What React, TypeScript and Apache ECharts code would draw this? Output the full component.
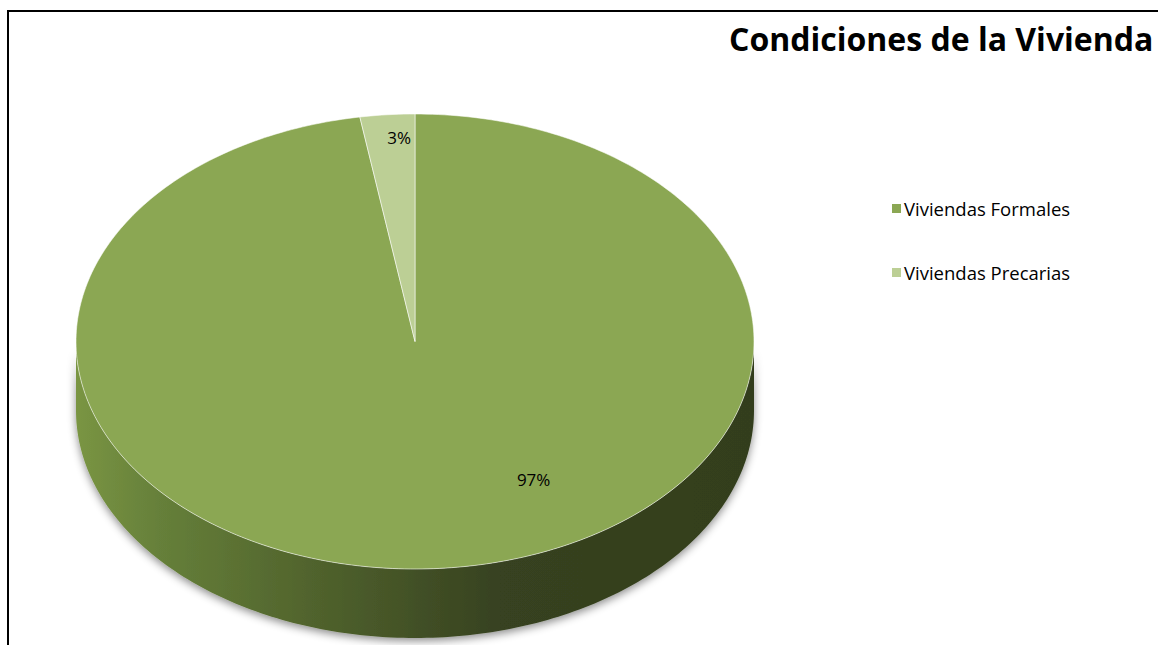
import React, { useEffect, useRef } from "react";
import * as echarts from "echarts";

const categories = ["Viviendas Formales", "Viviendas Precarias"];
const values = [97.4, 2.6];
const colors = ["#8ba753", "#bccf95"];
const titleText = "Condiciones de la Vivienda";

// pie geometry (style/layout constants)
const CX = 415;
const CY = 341.5;
const RX = 339;
const RY = 227.5;
const DEPTH = 69;

const pt = (theta: number, dy = 0): number[] => [
  CX + RX * Math.sin(theta),
  CY - RY * Math.cos(theta) + dy,
];

const arcPoints = (a: number, b: number, dy = 0): number[][] => {
  const n = Math.max(2, Math.ceil(((b - a) * 180) / Math.PI));
  const out: number[][] = [];
  for (let k = 0; k <= n; k++) out.push(pt(a + ((b - a) * k) / n, dy));
  return out;
};

const makeRender = (idx: number) => (params: any, api: any) => {
  const total = values.reduce((s, v) => s + v, 0);
  const before = values.slice(0, idx).reduce((s, v) => s + v, 0);
  const v = api.value(0);
  const a0 = (before / total) * Math.PI * 2;
  const a1 = a0 + (v / total) * Math.PI * 2;
  const children: any[] = [];

  // side wall (front half only)
  const s0 = Math.max(a0, Math.PI / 2);
  const s1 = Math.min(a1, (Math.PI * 3) / 2);
  if (s1 > s0) {
    const top = arcPoints(s0, s1);
    const bottom = arcPoints(s0, s1, DEPTH).reverse();
    children.push({
      type: "polygon",
      z2: 1,
      shape: { points: top.concat(bottom) },
      style: {
        fill: {
          type: "linear",
          x: CX - RX,
          y: 0,
          x2: CX + RX,
          y2: 0,
          global: true,
          colorStops: [
            { offset: 0, color: "#7a9543" },
            { offset: 0.12, color: "#66803a" },
            { offset: 0.3, color: "#55692f" },
            { offset: 0.48, color: "#445327" },
            { offset: 0.62, color: "#374220" },
            { offset: 1, color: "#333e1d" },
          ],
        },
        shadowBlur: 8,
        shadowColor: "rgba(0,0,0,0.45)",
        shadowOffsetY: 3,
      },
    });
  }

  // top face
  const pts = [[CX, CY]].concat(arcPoints(a0, a1));
  children.push({
    type: "polygon",
    z2: 2,
    shape: { points: pts },
    style: {
      fill: colors[idx],
      stroke: "rgba(255,255,255,0.55)",
      lineWidth: 1,
    },
  });

  // label
  const share = v / total;
  const mid = (a0 + a1) / 2;
  const la = share > 0.5 ? (150 * Math.PI) / 180 : mid + 0.03;
  const lr = share > 0.5 ? 0.7 : 0.9;
  const lp = [CX + RX * lr * Math.sin(la), CY - RY * lr * Math.cos(la)];
  children.push({
    type: "text",
    z2: 3,
    x: lp[0],
    y: lp[1],
    style: {
      text: Math.round(share * 100) + "%",
      fill: "#000",
      fontSize: 17,
      fontFamily: "'Open Sans', 'Noto Sans', sans-serif",
      align: "center",
      verticalAlign: "middle",
    },
  });

  return { type: "group", children };
};

export default function App() {
  const ref = useRef<HTMLDivElement>(null);
  useEffect(() => {
    if (!ref.current) return;
    const chart = echarts.init(ref.current, null, { renderer: "svg" });
    chart.setOption({
      animation: false,
      backgroundColor: "#ffffff",
      title: {
        text: titleText,
        left: 724,
        top: 17,
        textStyle: {
          fontSize: 32,
          fontWeight: "bold",
          color: "#000",
          fontFamily: "'Open Sans', 'Noto Sans', sans-serif",
        },
      },
      legend: {
        orient: "vertical",
        left: 887,
        top: 194,
        icon: "rect",
        itemWidth: 9,
        itemHeight: 9,
        itemGap: 45,
        data: categories,
        textStyle: {
          fontSize: 18.5,
          color: "#000",
          fontFamily: "'Open Sans', 'Noto Sans', sans-serif",
          padding: [0, 0, 0, -2],
        },
      },
      graphic: [
        {
          type: "line",
          shape: { x1: 7, y1: 11, x2: 1158, y2: 11 },
          style: { stroke: "#000", lineWidth: 2 },
        },
        {
          type: "line",
          shape: { x1: 8, y1: 10, x2: 8, y2: 645 },
          style: { stroke: "#000", lineWidth: 2 },
        },
      ],
      series: categories.map((name, i) => ({
        type: "custom",
        name,
        coordinateSystem: "none",
        itemStyle: { color: colors[i] },
        data: [[values[i]]],
        renderItem: makeRender(i),
      })),
    });
    return () => chart.dispose();
  }, []);
  return (
    <div
      ref={ref}
      style={{ position: "fixed", left: 0, top: 0, width: 1158, height: 645 }}
    />
  );
}
